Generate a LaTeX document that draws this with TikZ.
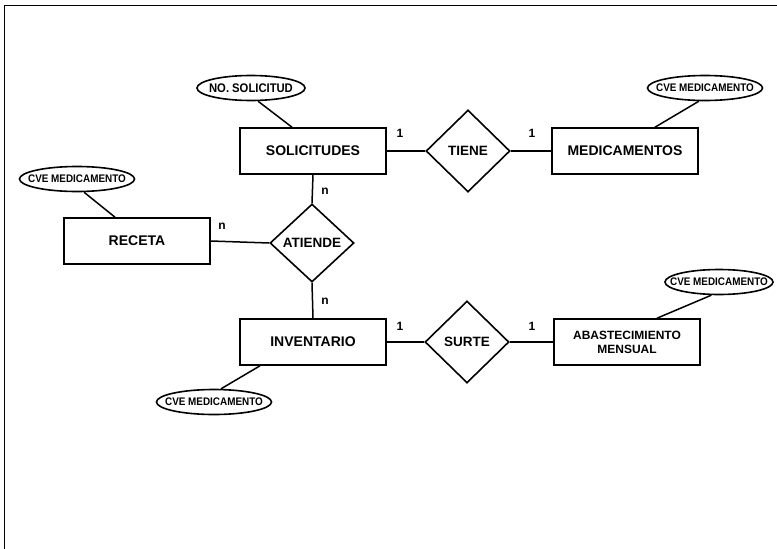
\documentclass[tikz,border=0pt]{standalone}
\usepackage{fontspec}
\usepackage{graphicx}
\setmainfont{Liberation Sans}
\usetikzlibrary{shapes.geometric}
% attribute text: narrowed, and given no width so the ellipse keeps its set size
\newcommand\atxt[1]{\makebox[0pt]{\scalebox{0.9}[1]{#1}}}
\begin{document}
\begin{tikzpicture}[x=1pt,y=-1pt,
  entity/.style={draw, line width=1.6pt, minimum width=146pt, minimum height=46pt,
    inner sep=0pt, align=center, font=\bfseries\fontsize{14}{16}\selectfont},
  relation/.style={draw, diamond, line width=1.6pt, minimum width=84pt, minimum height=82pt,
    inner sep=0pt, font=\bfseries\fontsize{13.5}{16}\selectfont},
  attrib/.style={draw, ellipse, line width=1.6pt, minimum width=115pt, minimum height=25pt,
    inner sep=0pt, font=\bfseries\fontsize{11}{13}\selectfont},
  link/.style={line width=1.5pt},
  card/.style={font=\bfseries\fontsize{12}{14}\selectfont, inner sep=0pt}]

% page extent and the open frame (top and left edges)
\useasboundingbox (0,0) rectangle (777,549);
\coordinate (frameTL) at (4.5,5.5);
\coordinate (frameTR) at (777,5.5);
\coordinate (frameBL) at (4.5,549);
\draw[line width=1.5pt] (frameTR) -- (frameTL) -- (frameBL);

% entities
\node[entity] (sol) at (313,151) {SOLICITUDES};
\node[entity] (med) at (625,151) {MEDICAMENTOS};
\node[entity] (rec) at (137,241) {RECETA};
\node[entity] (inv) at (313,342) {INVENTARIO};
\node[entity, font=\bfseries\fontsize{12}{14}\selectfont] (aba) at (627,342) {ABASTECIMIENTO\\MENSUAL};

% relationships
\node[relation] (tiene) at (468,151) {TIENE};
\node[relation, minimum height=78pt] (atiende) at (312,243) {ATIENDE};
\node[relation] (surte) at (467,342) {SURTE};

% attributes
\node[attrib, font=\bfseries\fontsize{12.5}{14}\selectfont, minimum width=108pt] (nosol) at (251,88) {\atxt{NO. SOLICITUD}};
\node[attrib] (cvemed) at (705,88) {\atxt{CVE MEDICAMENTO}};
\node[attrib] (cverec) at (77,179) {\atxt{CVE MEDICAMENTO}};
\node[attrib] (cveinv) at (214,402) {\atxt{CVE MEDICAMENTO}};
\node[attrib, minimum width=108pt] (cveaba) at (719,282) {\atxt{CVE MEDICAMENTO}};

% attribute links
\draw[link] (nosol.-62) -- (sol.north -| 292,0);
\draw[link] (cvemed.-115) -- (med.north -| 655,0);
\draw[link] (cverec.-62) -- (rec.north -| 115,0);
\draw[link] (cveinv.62) -- (inv.south -| 260,0);
\draw[link] (cveaba.-120) -- (aba.north -| 657,0);

% relationship links
\draw[link] (sol.east) -- (tiene.west);
\draw[link] (tiene.east) -- (med.west);
\draw[link] (sol.south) -- (atiende.north);
\draw[link] (rec.east) -- (atiende.west);
\draw[link] (atiende.south) -- (inv.north);
\draw[link] (inv.east) -- (surte.west);
\draw[link] (surte.east) -- (aba.west);

% cardinalities
\node[card] (c1) at (400,133) {1};
\node[card] (c2) at (532,133) {1};
\node[card] (c3) at (325,191) {n};
\node[card] (c4) at (222,226) {n};
\node[card] (c5) at (325,301) {n};
\node[card] (c6) at (400,326) {1};
\node[card] (c7) at (532,326) {1};
\end{tikzpicture}
\end{document}
